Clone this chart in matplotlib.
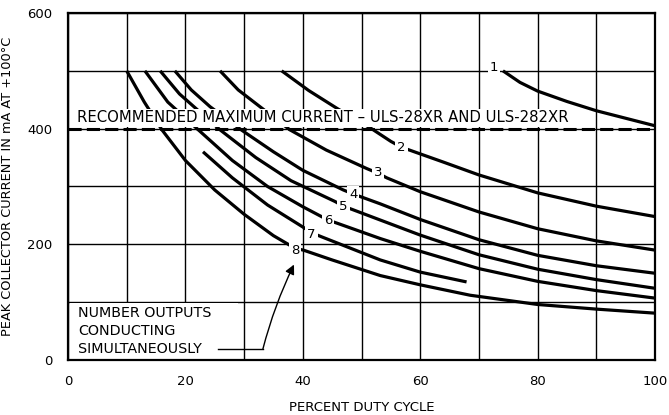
import matplotlib
matplotlib.use("Agg")
import matplotlib.pyplot as plt
from matplotlib.ticker import MultipleLocator
from matplotlib.patches import Rectangle

plt.rcParams['font.family'] = ['DejaVu Sans']

# ---- data ----
c1_x = [74.1, 77, 80, 85, 90, 95, 100]
c1_y = [500, 480, 465, 447, 431, 418, 405]

c2_x = [36.4, 41, 46, 51.7, 55, 56.8, 59, 64, 70, 80, 90, 100]
c2_y = [500, 466, 434, 400, 378, 368, 360, 342, 320, 289, 266, 248]

c3_x = [25.9, 29, 32.7, 37.8, 44, 50.9, 52.8, 54.3, 60, 70, 80, 90, 100]
c3_y = [500, 467, 438, 398, 363, 331, 323, 315, 291, 256, 227, 206, 190]

c4_x = [18.2, 21, 24.2, 29.5, 35, 40, 46.9, 48.6, 53.2, 60, 70, 80, 90, 100]
c4_y = [500, 467, 438, 398, 360, 328, 294, 287, 270, 243, 208, 181, 163, 150]

c5_x = [15.7, 19, 25.9, 32, 38, 45.5, 46.9, 48.5, 53.2, 60, 70, 80, 90, 100]
c5_y = [500, 460, 398, 350, 310, 274, 266, 260, 242, 216, 182, 157, 139, 124]

c6_x = [13.1, 17, 22.2, 28, 34, 40, 44.3, 46, 53.2, 60, 70, 80, 90, 100]
c6_y = [500, 446, 398, 345, 300, 265, 242, 236, 210, 188, 158, 136, 120, 107]

c7_x = [23, 28, 34, 40, 41.5, 43.2, 53.2, 60, 67.9]
c7_y = [360, 315, 268, 230, 220, 213, 173, 152, 135]

c8_x = [10, 13, 16, 20, 25, 30, 35, 38.7, 40.1, 45, 53.2, 60, 68.5, 80, 90, 100]
c8_y = [500, 446, 398, 345, 294, 252, 215, 193, 190, 173, 146, 130, 112, 96, 88, 81]

curves_x = [c1_x, c2_x, c3_x, c4_x, c5_x, c6_x, c7_x, c8_x]
curves_y = [c1_y, c2_y, c3_y, c4_y, c5_y, c6_y, c7_y, c8_y]

label_text = ["1", "2", "3", "4", "5", "6", "7", "8"]
label_x = [72.6, 56.8, 52.8, 48.6, 46.9, 44.3, 41.5, 38.7]
label_y = [505, 368, 325, 287, 265, 241, 217, 189]

max_current = 400
max_text = "RECOMMENDED MAXIMUM CURRENT \u2013 ULS-28XR AND ULS-282XR"
note_lines = ["NUMBER OUTPUTS", "CONDUCTING", "SIMULTANEOUSLY"]
note_y = [81, 50, 19]

x_ticks = [0, 20, 40, 60, 80, 100]
y_ticks = [0, 200, 400, 600]

# ---- figure ----
fig = plt.figure(figsize=(6.69, 4.15), dpi=100)
ax = fig.add_axes([68/669, 55/415, 587/669, 347/415])
ax.set_xlim(0, 100)
ax.set_ylim(0, 600)

ax.set_xticks(x_ticks)
ax.set_yticks(y_ticks)
ax.xaxis.set_minor_locator(MultipleLocator(10))
ax.yaxis.set_minor_locator(MultipleLocator(100))
ax.tick_params(which='both', length=0)
ax.tick_params(axis='x', pad=11, labelsize=9.5)
ax.tick_params(axis='y', pad=11, labelsize=9.5)
ax.grid(True, which='both', color='black', linewidth=1.0, zorder=1)
ax.set_axisbelow(True)
for s in ax.spines.values():
    s.set_linewidth(1.6)
    s.set_zorder(6)

for xs, ys in zip(curves_x, curves_y):
    ax.plot(xs, ys, color='black', linewidth=2.3, solid_capstyle='butt',
            solid_joinstyle='round', zorder=3)

# recommended max line
ax.axhline(max_current, color='black', linewidth=2.2, linestyle=(0, (4.3, 1.7)), zorder=5)
ax.text(1.6, 419, max_text, fontsize=10.7, ha='left', va='center', zorder=4,
        bbox=dict(boxstyle='square,pad=0.1', fc='white', ec='none'))

for t, lx, ly in zip(label_text, label_x, label_y):
    ax.text(lx, ly, t, fontsize=9.5, ha='center', va='center', zorder=4,
            bbox=dict(boxstyle='square,pad=0.15', fc='white', ec='none'))

# note box (white area hiding grid)
ax.add_patch(Rectangle((0.4, 2), 28.5, 96, facecolor='white', edgecolor='none', zorder=2))
for t, ny in zip(note_lines, note_y):
    ax.text(1.7, ny, t, fontsize=10.3, ha='left', va='center', zorder=4)
ax.plot([25.6, 33.2], [19, 19], color='black', linewidth=1.0, zorder=5)
ax.annotate("", xy=(38.5, 165), xytext=(33.2, 19),
            arrowprops=dict(arrowstyle='-|>', color='black', lw=1.0,
                            mutation_scale=14, shrinkA=0, shrinkB=0,
                            connectionstyle='arc3,rad=-0.05'), zorder=5)

ax.set_xlabel("PERCENT DUTY CYCLE", fontsize=9.5)
ax.xaxis.set_label_coords(0.5, -0.118)
ax.set_ylabel("PEAK COLLECTOR CURRENT IN mA AT +100\u00b0C", fontsize=9.3)
ax.yaxis.set_label_coords(-54/587, 0.5)

fig.savefig("out.png", dpi=100)
